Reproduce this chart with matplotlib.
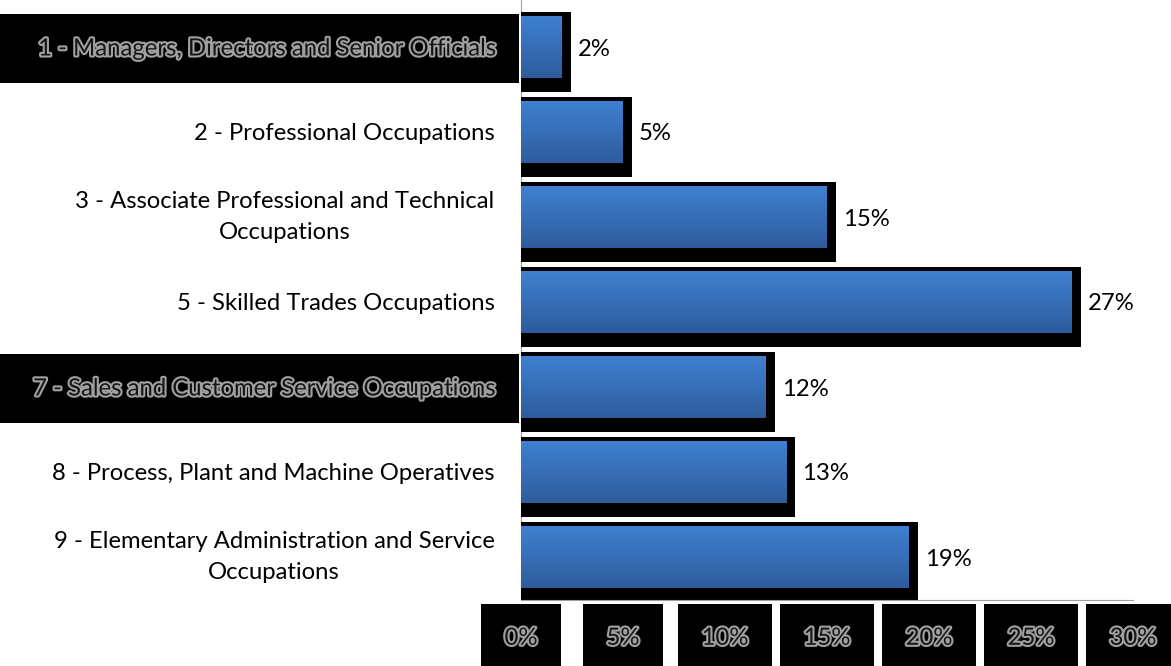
import matplotlib
matplotlib.use("Agg")
import matplotlib.pyplot as plt
import matplotlib.patheffects as pe
import numpy as np
from matplotlib.colors import LinearSegmentedColormap
from matplotlib.patches import Rectangle

categories = [
    "1 - Managers, Directors and Senior Officials",
    "2 - Professional Occupations",
    "3 - Associate Professional and Technical\nOccupations",
    "5 - Skilled Trades Occupations",
    "7 - Sales and Customer Service Occupations",
    "8 - Process, Plant and Machine Operatives",
    "9 - Elementary Administration and Service\nOccupations",
]
values = [2, 5, 15, 27, 12, 13, 19]
highlighted = [0, 4]
xticks = [0, 5, 10, 15, 20, 25, 30]
xtick_labels = ["0%", "5%", "10%", "15%", "20%", "25%", "30%"]

plt.rcParams['font.family'] = ['Lato', 'DejaVu Sans']
FS = 17.2

W, H = 1171, 666
fig = plt.figure(figsize=(W / 100, H / 100), dpi=100)
ax_l, ax_r, ax_t, ax_b = 521, 1133, 0, 600
ax = fig.add_axes([ax_l / W, 1 - ax_b / H, (ax_r - ax_l) / W, (ax_b - ax_t) / H])

px = 30.0 / (ax_r - ax_l)   # data units per pixel in x
py = 1.0 / 85.0             # data units per pixel in y (85 px per row)
ypos = np.arange(len(values))

grad = LinearSegmentedColormap.from_list("g", ["#3f80d0", "#2e5c9d"])
bar_h = 62 * py
for y, v in zip(ypos, values):
    # black drop shadow
    ax.add_patch(Rectangle((0, y - 35 * py), v + 9 * px, 80 * py,
                           facecolor="black", edgecolor="none", zorder=1))
    bars = ax.barh(y, v, height=bar_h, color="none", zorder=2)
    im = ax.imshow(np.linspace(0, 1, 64).reshape(-1, 1), cmap=grad, aspect="auto",
                   extent=(0, v, y + bar_h / 2, y - bar_h / 2), zorder=2)
    im.set_clip_path(bars[0])
    ax.text(v + 16 * px, y + 2 * py, f"{v}%", ha="left", va="center", fontsize=FS,
            color="black", zorder=3)

ax.set_xlim(0, 30)
ax.set_ylim(6 + 43 * py, -47 * py)

for s in ["top", "right"]:
    ax.spines[s].set_visible(False)
ax.spines["left"].set_color("#a0a0a0")
ax.spines["bottom"].set_color("#a0a0a0")
ax.spines["left"].set_zorder(0.5)

glow = [pe.withStroke(linewidth=3, foreground="#a0a0a0")]

ax.set_yticks(ypos)
ax.set_yticklabels(categories, fontsize=FS, multialignment="center", linespacing=1.62)
ax.tick_params(axis="y", length=0, pad=19)
for i, lab in enumerate(ax.get_yticklabels()):
    if "\n" in categories[i]:
        lab.set_verticalalignment("center")
    if i in highlighted:
        lab.set_color("#151515")
        lab.set_path_effects(glow)
        y = ypos[i]
        ax.add_patch(Rectangle((-521 * px, y - 33 * py), 519 * px, 69 * py,
                               facecolor="black", edgecolor="none",
                               clip_on=False, zorder=0))

ax.set_xticks(xticks)
ax.set_xticklabels(xtick_labels, fontsize=FS)
ax.tick_params(axis="x", length=0, pad=20)
for lab in ax.get_xticklabels():
    lab.set_color("#151515")
    lab.set_path_effects(glow)
    lab.set_bbox(dict(boxstyle="square,pad=1.0", facecolor="black", edgecolor="none"))

fig.savefig("out.png", dpi=100)
